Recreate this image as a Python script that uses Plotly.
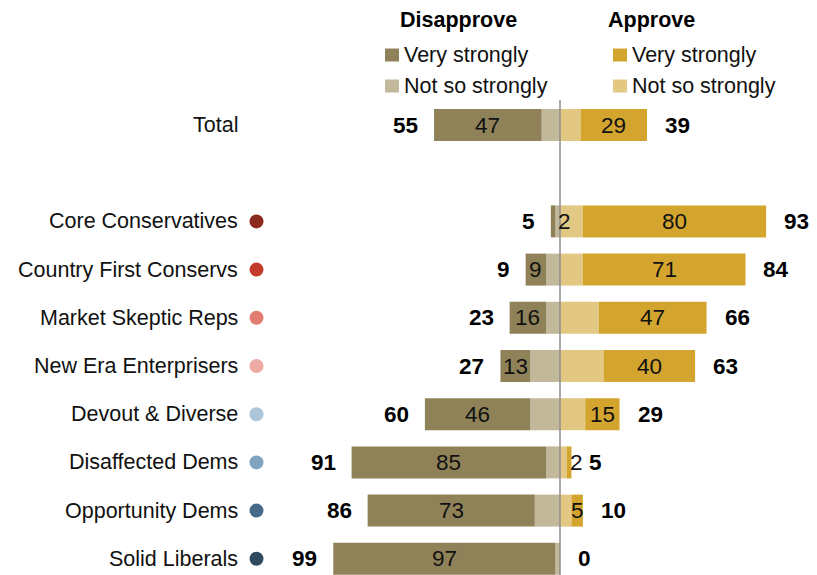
import plotly.graph_objects as go

# ---------------- data ----------------
categories = ["Total", "Core Conservatives", "Country First Conservs", "Market Skeptic Reps",
              "New Era Enterprisers", "Devout & Diverse", "Disaffected Dems",
              "Opportunity Dems", "Solid Liberals"]
dis_very = [47, 2, 9, 16, 13, 46, 85, 73, 97]
dis_not = [8, 2, 6, 6, 13, 13, 6, 11, 2]
app_not = [9, 10, 10, 17, 19, 11, 3, 5, 0]
app_very = [29, 80, 71, 47, 40, 15, 2, 5, 0]
dis_net = [55, 5, 9, 23, 27, 60, 91, 86, 99]
app_net = [39, 93, 84, 66, 63, 29, 5, 10, 0]
dot_colors = [None, "#8C2A1E", "#C23B2B", "#E17D70", "#EDABA3",
              "#ADC6DA", "#7FA3C0", "#466A8A", "#2F4A5E"]

# ---------------- styling ----------------
OFF = 8  # page body margin
W, H = 817 - OFF, 575 - OFF
C_DIS_VERY = "#8F8259"
C_DIS_NOT = "#C2B99B"
C_APP_VERY = "#D3A52F"
C_APP_NOT = "#E3C883"
FONT = "Liberation Sans, Arial, sans-serif"
FS = 21.5
FN = 22.5
PX_PER_UNIT = 2.29
ZERO_PX = 560 - OFF
ROW_PX = 48.2
TOP_ROW_PX = 125 - OFF

# row positions: Total, a gap, then the groups
ypos = [0] + [i + 2 for i in range(len(categories) - 1)]

def px_x(p):
    return (p - OFF) / W

def px_y(p):
    return 1 - (p - OFF) / H

fig = go.Figure()
common = dict(orientation="h", y=ypos, hoverinfo="skip", marker_line_width=0)
fig.add_trace(go.Bar(x=[-v for v in dis_not], marker_color=C_DIS_NOT, name="Disapprove not so strongly", **common))
fig.add_trace(go.Bar(x=[-v for v in dis_very], marker_color=C_DIS_VERY, name="Disapprove very strongly", **common))
fig.add_trace(go.Bar(x=app_not, marker_color=C_APP_NOT, name="Approve not so strongly", **common))
fig.add_trace(go.Bar(x=app_very, marker_color=C_APP_VERY, name="Approve very strongly", **common))

ann = []
dot_x = -(560 - 256.5) / PX_PER_UNIT
for i, cat in enumerate(categories):
    y = ypos[i]
    ann.append(dict(x=px_x(240), xref="paper", y=y, yref="y", text=cat, showarrow=False,
                    xanchor="right", yanchor="middle", font=dict(size=FS, color="#111", family=FONT)))
    if dot_colors[i]:
        fig.add_trace(go.Scatter(x=[dot_x], y=[y], mode="markers",
                                 marker=dict(size=14, color=dot_colors[i]), hoverinfo="skip",
                                 showlegend=False))
    if dis_very[i] > 0:
        if dis_very[i] < 3:
            ann.append(dict(x=-dis_not[i], y=y, text=str(dis_very[i]), showarrow=False, xanchor="left",
                            xshift=1, font=dict(size=FN, color="#111", family=FONT)))
        else:
            ann.append(dict(x=-(dis_not[i] + dis_very[i] / 2), y=y, text=str(dis_very[i]), showarrow=False,
                            xanchor="center", font=dict(size=FN, color="#111", family=FONT)))
    if app_very[i] > 0:
        if app_very[i] < 3:
            ann.append(dict(x=app_not[i], y=y, text=str(app_very[i]), showarrow=False, xanchor="left",
                            xshift=1, font=dict(size=FN, color="#111", family=FONT)))
        else:
            ann.append(dict(x=app_not[i] + app_very[i] / 2, y=y, text=str(app_very[i]), showarrow=False,
                            xanchor="center", font=dict(size=FN, color="#111", family=FONT)))
    ann.append(dict(x=-(dis_not[i] + dis_very[i]), y=y, text="<b>%d</b>" % dis_net[i], showarrow=False,
                    xanchor="right", xshift=-14, font=dict(size=FN, color="#000", family=FONT)))
    ann.append(dict(x=app_not[i] + app_very[i], y=y, text="<b>%d</b>" % app_net[i], showarrow=False,
                    xanchor="left", xshift=16, font=dict(size=FN, color="#000", family=FONT)))

ann.append(dict(x=px_x(458), y=px_y(20), xref="paper", yref="paper", text="<b>Disapprove</b>",
                showarrow=False, xanchor="center", yanchor="middle", font=dict(size=FS, color="#000", family=FONT)))
ann.append(dict(x=px_x(651), y=px_y(20), xref="paper", yref="paper", text="<b>Approve</b>",
                showarrow=False, xanchor="center", yanchor="middle", font=dict(size=FS, color="#000", family=FONT)))

shapes = []
legend_items = [(385, 55, C_DIS_VERY, "Very strongly"), (385, 86, C_DIS_NOT, "Not so strongly"),
                (613, 55, C_APP_VERY, "Very strongly"), (613, 86, C_APP_NOT, "Not so strongly")]
for lx, ly, col, txt in legend_items:
    shapes.append(dict(type="rect", xref="paper", yref="paper", x0=px_x(lx), x1=px_x(lx + 14),
                       y0=px_y(ly - 6.5), y1=px_y(ly + 6.5), fillcolor=col, line_width=0))
    ann.append(dict(x=px_x(lx + 17), y=px_y(ly), xref="paper", yref="paper", text=txt, showarrow=False,
                    xanchor="left", yanchor="middle", font=dict(size=FS, color="#111", family=FONT)))

shapes.append(dict(type="line", xref="x", yref="paper", x0=0, x1=0, y0=px_y(100), y1=0,
                   line=dict(color="#8E8E8E", width=1.5)))

fig.update_layout(
    width=W, height=H,
    margin=dict(l=0, r=0, t=0, b=0),
    paper_bgcolor="white", plot_bgcolor="white",
    barmode="relative", bargap=1 - 32 / ROW_PX,
    showlegend=False,
    xaxis=dict(range=[-ZERO_PX / PX_PER_UNIT, (W - ZERO_PX) / PX_PER_UNIT], visible=False, fixedrange=True),
    yaxis=dict(range=[(H - TOP_ROW_PX) / ROW_PX, -TOP_ROW_PX / ROW_PX], visible=False, fixedrange=True),
    annotations=ann, shapes=shapes,
)

fig.write_html("out.html")
